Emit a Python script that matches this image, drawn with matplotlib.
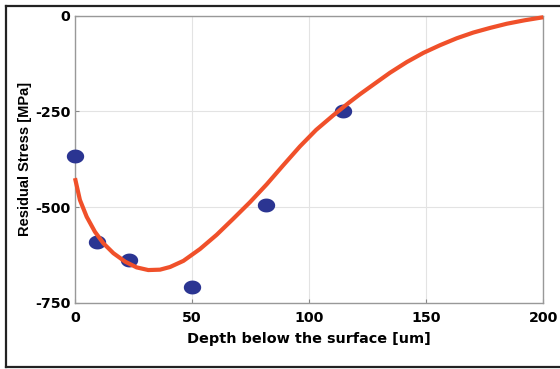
import numpy as np
import matplotlib
matplotlib.use("Agg")
import matplotlib.pyplot as plt
from matplotlib.path import Path
from matplotlib.lines import Line2D

# Measured data points
depth_pts = [0, 9.3, 23.2, 50.1, 81.5, 114.3]
stress_pts = [-365, -590, -638, -707, -494, -248]

# Fitted curve
curve_x = [0, 2.1, 5.0, 8.5, 12.1, 16.4, 21.4, 26.3, 31.3, 36.3, 40.6, 46.3,
           53.4, 60.5, 67.6, 74.7, 81.9, 89, 96.1, 103, 110.3, 117, 121.7,
           127.4, 134.5, 141.7, 148.8, 155.9, 163, 170.1, 177.2, 184.4, 192, 200]
curve_y = [-424, -481, -525, -564, -594, -620, -642, -657, -664, -663, -656, -640,
           -609, -572, -530, -487, -440, -390, -341, -298, -260, -227, -205,
           -180, -149, -121, -97, -77, -59, -44, -32, -21, -12, -4]

xticks = [0, 50, 100, 150, 200]
yticks = [0, -250, -500, -750]

plt.rcParams['font.family'] = ['DejaVu Sans']

fig = plt.figure(figsize=(5.6, 3.69), dpi=100)
ax = fig.add_axes([75/560, 1-303/369, (543.3-75)/560, (303-15.7)/369])

# ellipse marker
t = np.linspace(0, 2*np.pi, 60)
ell = Path(np.column_stack([np.cos(t), 0.8*np.sin(t)]), closed=True)

ax.plot(depth_pts, stress_pts, linestyle='none', marker=ell, markersize=12.5,
        color='#2B3592', markeredgewidth=0, zorder=3, clip_on=False)
ax.plot(curve_x, curve_y, color='#F0502A', linewidth=3.0, solid_joinstyle='round',
        solid_capstyle='butt', zorder=4, clip_on=False)

ax.set_xlim(0, 200)
ax.set_ylim(-750, 0)
ax.set_xticks(xticks)
ax.set_yticks(yticks)
ax.set_xticklabels([str(v) for v in xticks], fontsize=10.2, fontweight='bold')
ax.set_yticklabels([str(v) for v in yticks], fontsize=10.2, fontweight='bold')
ax.tick_params(direction='in', length=3, color='#888888')
ax.tick_params(axis='y', pad=3.4)
ax.tick_params(axis='x', pad=6)
ax.grid(True, color='#E3E3E3', linewidth=0.8)
ax.set_axisbelow(True)
for s in ax.spines.values():
    s.set_color('#999999')
    s.set_linewidth(1.0)

ax.set_xlabel('Depth below the surface [um]', fontsize=10.4, fontweight='bold', labelpad=5)
ax.set_ylabel('Residual Stress [MPa]', fontsize=10.5, fontweight='bold', labelpad=2,
              family='Liberation Sans')

# outer frame (open on the right)
fig.add_artist(Line2D([6/560, 1.02], [1-5.5/369, 1-5.5/369], color='#222222', linewidth=1.6, transform=fig.transFigure))
fig.add_artist(Line2D([6/560, 1.02], [1-366.5/369, 1-366.5/369], color='#222222', linewidth=1.6, transform=fig.transFigure))
fig.add_artist(Line2D([6/560, 6/560], [1-5.5/369, 1-366.5/369], color='#222222', linewidth=1.6, transform=fig.transFigure))

fig.savefig('out.png', dpi=100)
